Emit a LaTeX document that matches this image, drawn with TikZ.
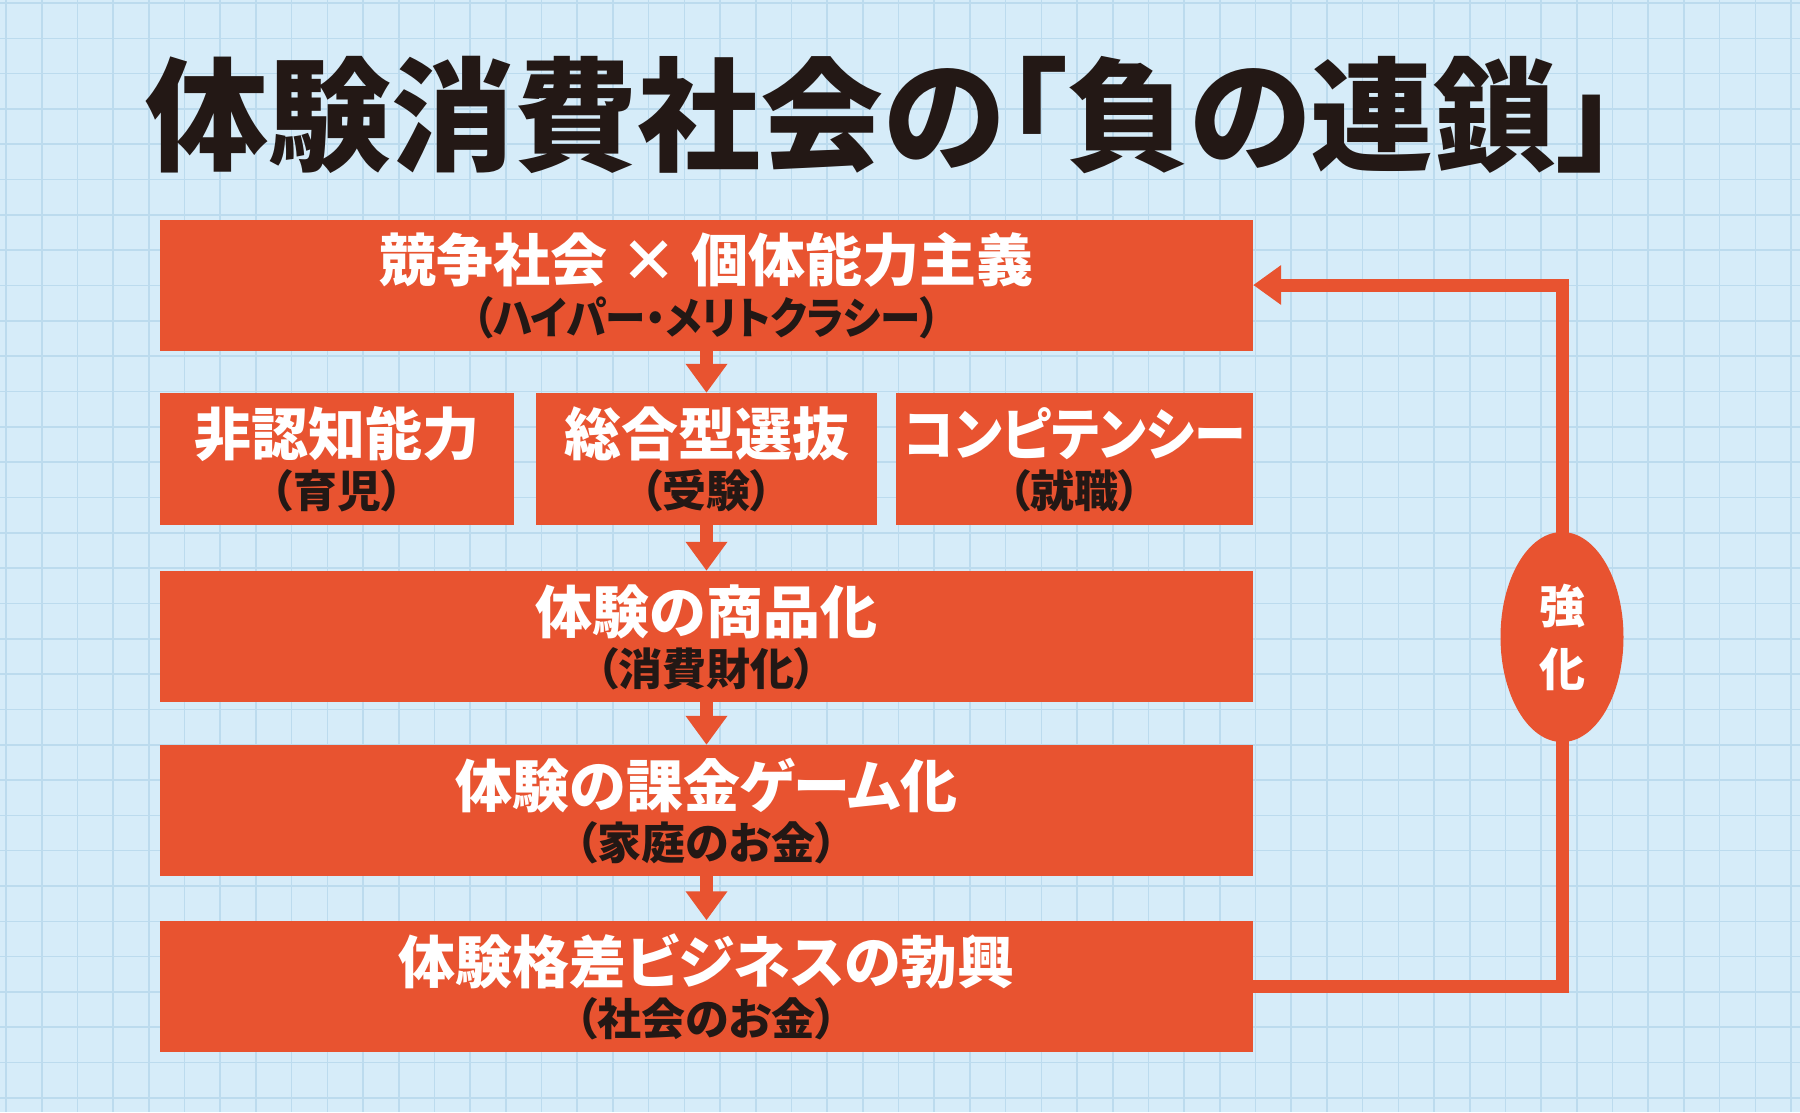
\documentclass[tikz,border=0pt]{standalone}
\usepackage{fontspec}
\usepackage{graphicx}
\usetikzlibrary{arrows.meta,shapes.geometric}
\newfontfamily\jpfont{Noto Sans CJK JP}[RawFeature=+palt]
\definecolor{paper}{RGB}{214,236,249}
\definecolor{gridline}{RGB}{188,219,238}
\definecolor{chain}{RGB}{232,83,48}
\definecolor{ink}{RGB}{35,24,21}
\tikzset{
  chainbox/.style={fill=chain,minimum height=131pt,inner sep=0pt},
  headtext/.style={text=white,inner sep=0pt,font=\jpfont\bfseries\fontsize{57}{60}\selectfont},
  subtext/.style={text=ink,inner sep=0pt,font=\jpfont\bfseries\fontsize{44}{48}\selectfont},
  flowarrow/.style={draw=chain,line width=13pt,-{Triangle[length=29pt,width=40pt]}},
  loopline/.style={draw=chain,line width=13pt,-{Triangle[length=28pt,width=38pt]}},
  loopmark/.style={ellipse,fill=chain,minimum width=123pt,minimum height=210pt,inner sep=0pt,
    text=white,align=center,font=\jpfont\bfseries\fontsize{46}{63}\selectfont}
}
\begin{document}
\begin{tikzpicture}[x=1pt,y=-1pt]
  \useasboundingbox (0,0) rectangle (1800,1112);
  \fill[paper] (0,0) rectangle (1800,1112);%
  \foreach \gx in {0,...,50} \draw[gridline,line width=1.6pt] ({6+35.7*\gx},0) -- ({6+35.7*\gx},1112);%
  \foreach \gy in {0,...,31} \draw[gridline,line width=1.6pt] (0,{3+35.32*\gy}) -- (1800,{3+35.32*\gy});%

  \node[text=ink,inner sep=0pt,font=\jpfont\bfseries\fontsize{123}{130}\selectfont] (title) at (882,115) {体験消費社会の「負の連鎖」};

  % boxes
  \node[chainbox,minimum width=1093pt] (compete) at (706.5,285) {};
  \node[chainbox,minimum width=354pt,minimum height=132pt] (noncog) at (337,459) {};
  \node[chainbox,minimum width=341pt,minimum height=132pt] (selection) at (706.5,459) {};
  \node[chainbox,minimum width=357pt,minimum height=132pt] (competency) at (1074.5,459) {};
  \node[chainbox,minimum width=1093pt] (goods) at (706.5,636.5) {};
  \node[chainbox,minimum width=1093pt] (gamify) at (706.5,810.5) {};
  \node[chainbox,minimum width=1093pt] (business) at (706.5,986) {};

  % texts
  \node[headtext] (competeHead) at ([yshift=-41pt]compete.north) {競争社会 × 個体能力主義};
  \node[subtext] (competeSub) at ([yshift=-98pt]compete.north) {\scalebox{0.92}[1]{（ハイパー・メリトクラシー）}};
  \node[headtext] (noncogHead) at ([yshift=-41pt]noncog.north) {非認知能力};
  \node[subtext] (noncogSub) at ([yshift=-98pt]noncog.north) {（育児）};
  \node[headtext] (selectionHead) at ([yshift=-41pt]selection.north) {総合型選抜};
  \node[subtext] (selectionSub) at ([yshift=-98pt]selection.north) {（受験）};
  \node[headtext] (competencyHead) at ([yshift=-41pt]competency.north) {\scalebox{0.91}[1]{コンピテンシー}};
  \node[subtext] (competencySub) at ([yshift=-98pt]competency.north) {（就職）};
  \node[headtext] (goodsHead) at ([yshift=-41pt]goods.north) {体験の商品化};
  \node[subtext] (goodsSub) at ([yshift=-98pt]goods.north) {（消費財化）};
  \node[headtext] (gamifyHead) at ([yshift=-41pt]gamify.north) {体験の課金ゲーム化};
  \node[subtext] (gamifySub) at ([yshift=-98pt]gamify.north) {（家庭のお金）};
  \node[headtext] (businessHead) at ([yshift=-41pt]business.north) {体験格差ビジネスの勃興};
  \node[subtext] (businessSub) at ([yshift=-98pt]business.north) {（社会のお金）};

  % arrows
  \draw[flowarrow] (compete.south) -- (selection.north);
  \draw[flowarrow] (selection.south) -- (goods.north);
  \draw[flowarrow] (goods.south) -- (gamify.north);
  \draw[flowarrow] (gamify.south) -- (business.north);

  \coordinate (turn) at (1562,637);
  \draw[loopline] (business.east) -| (turn) |- (compete.east);
  \node[loopmark] (boost) at (turn) {強\\化};
\end{tikzpicture}
\end{document}
